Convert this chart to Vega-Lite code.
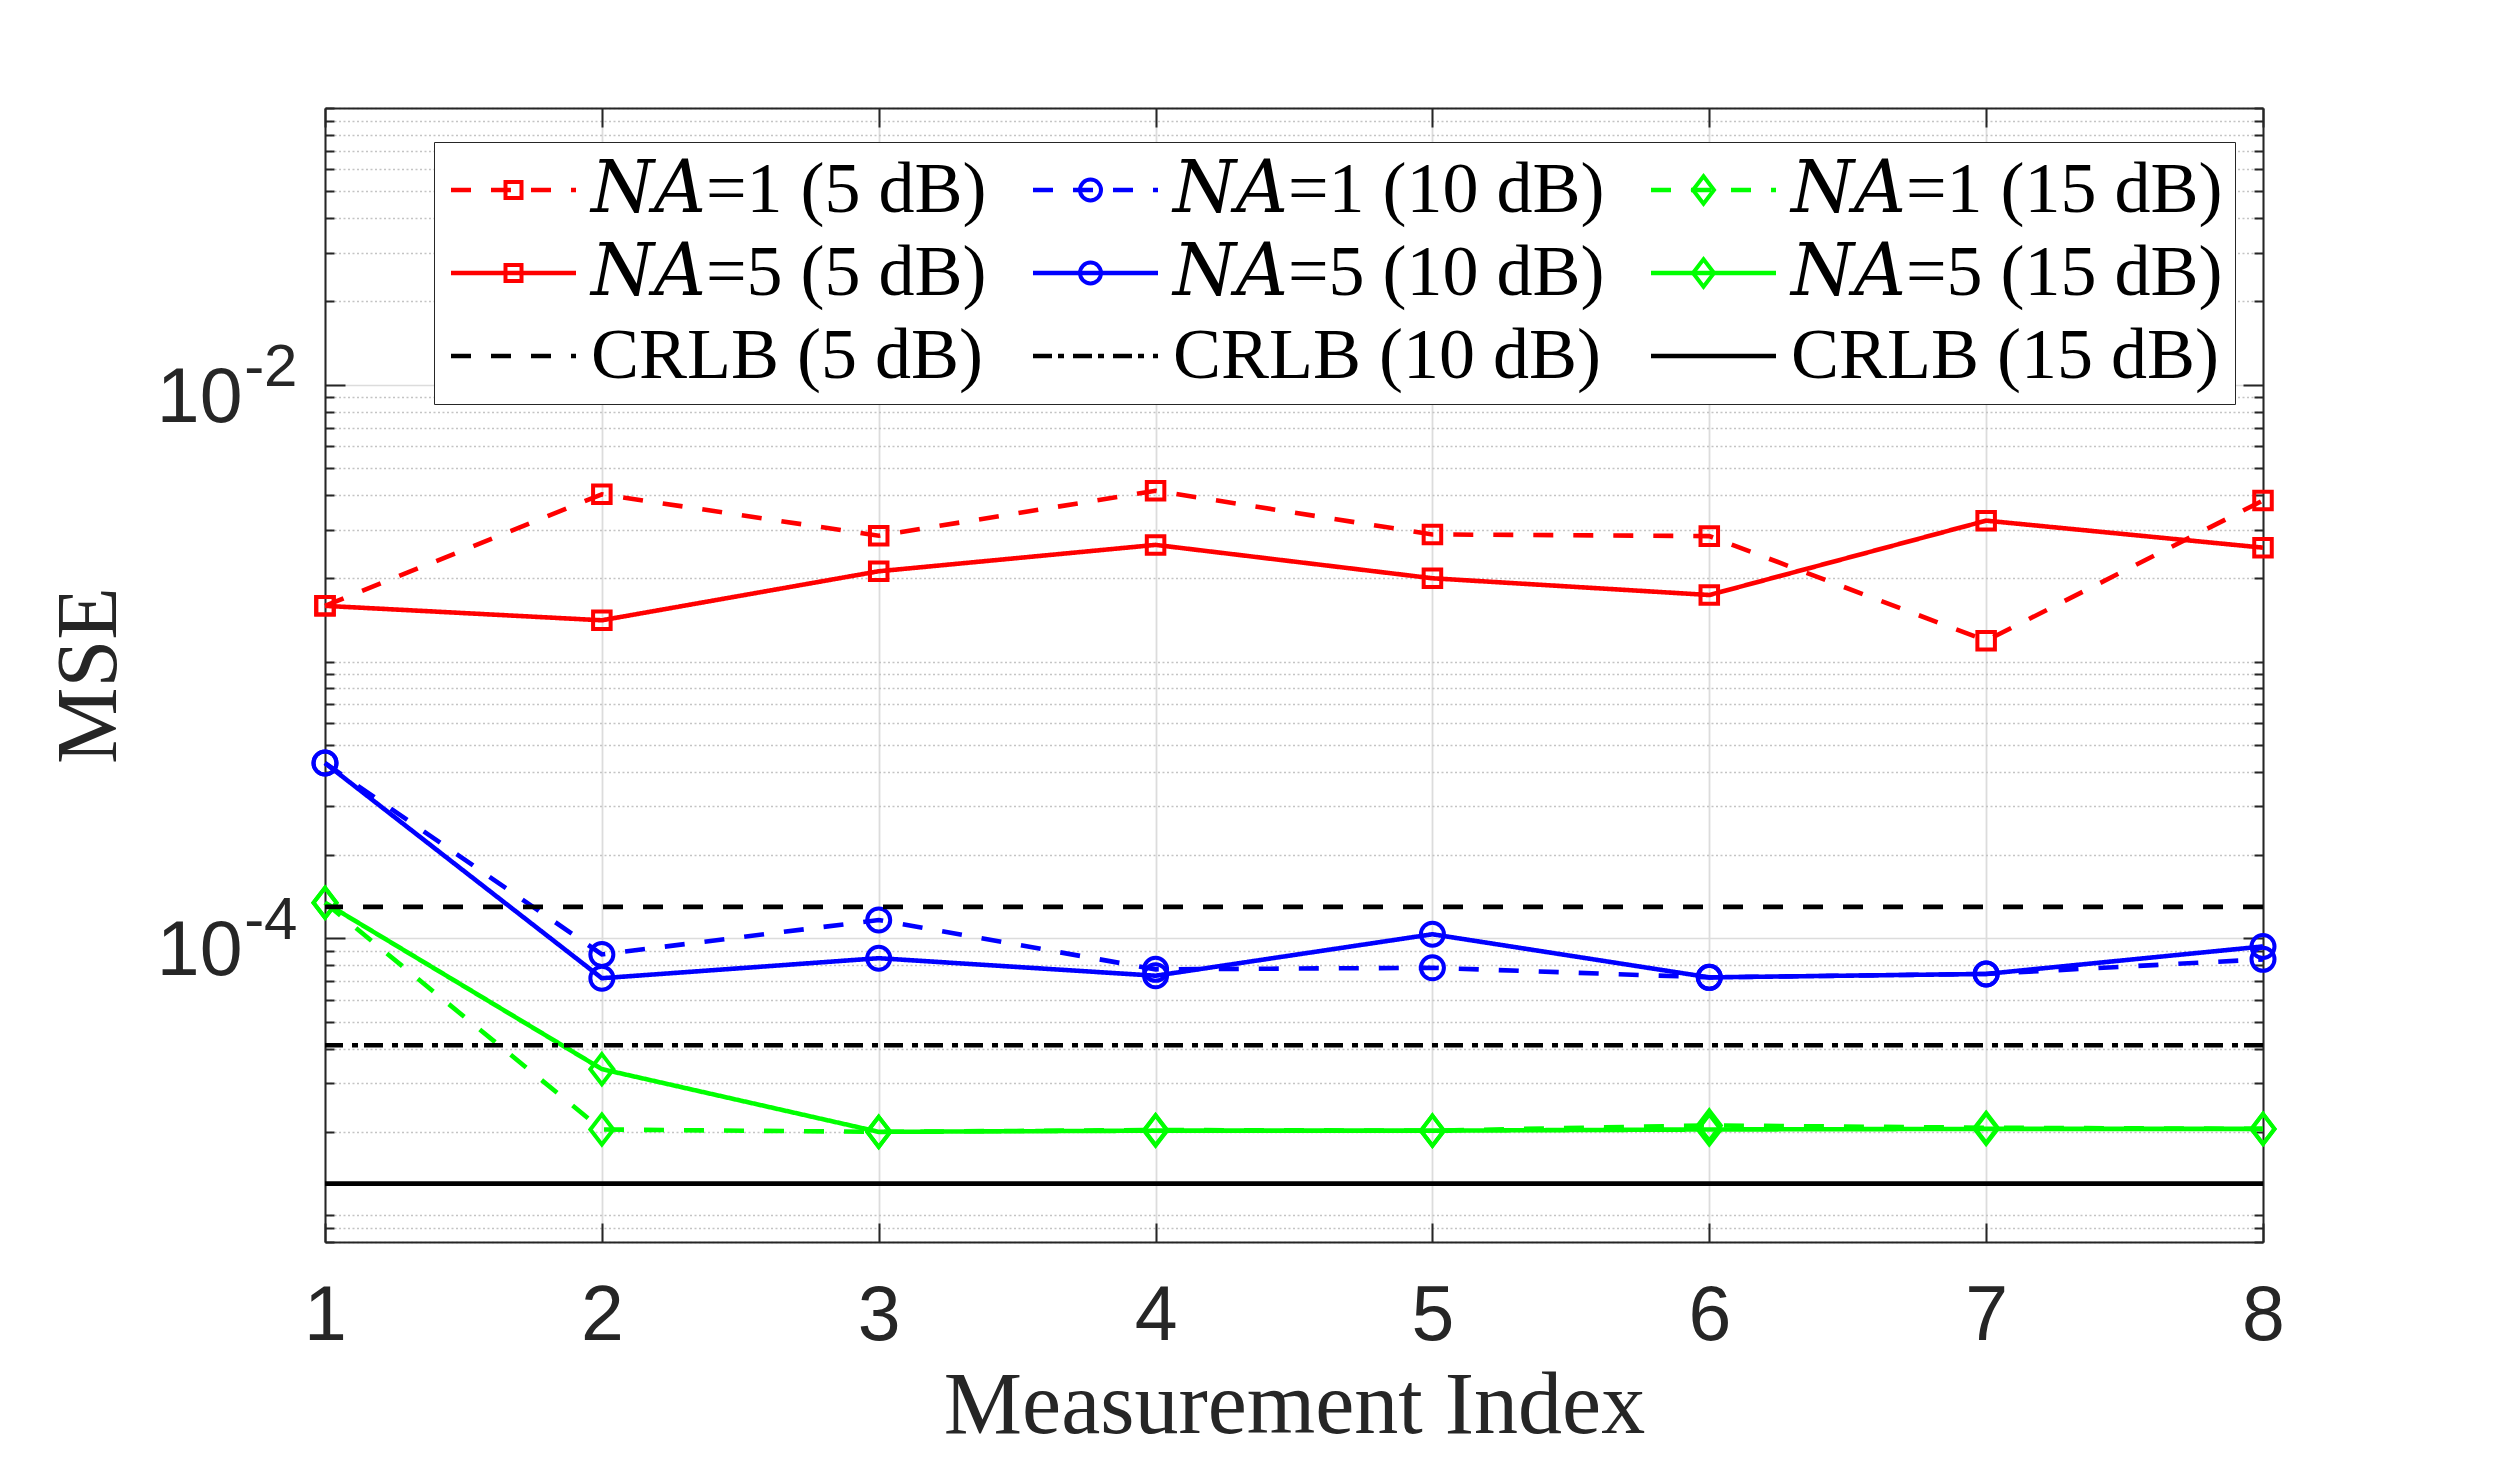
{
  "$schema": "https://vega.github.io/schema/vega-lite/v6.json",
  "width": 1938,
  "height": 1134,
  "autosize": {"type": "none"},
  "padding": {"left": 325, "top": 108, "right": 237, "bottom": 216},
  "background": "white",
  "config": {
    "view": {"stroke": null},
    "axis": {"domainColor": "#262626", "domainWidth": 2, "tickColor": "#262626", "tickWidth": 2}
  },
  "datasets": {
    "curves": [
      {"series": "N_A=1 (5 dB)", "index": 1, "mse": 0.00159},
      {"series": "N_A=1 (5 dB)", "index": 2, "mse": 0.00402},
      {"series": "N_A=1 (5 dB)", "index": 3, "mse": 0.00285},
      {"series": "N_A=1 (5 dB)", "index": 4, "mse": 0.00414},
      {"series": "N_A=1 (5 dB)", "index": 5, "mse": 0.00288},
      {"series": "N_A=1 (5 dB)", "index": 6, "mse": 0.00284},
      {"series": "N_A=1 (5 dB)", "index": 7, "mse": 0.00119},
      {"series": "N_A=1 (5 dB)", "index": 8, "mse": 0.00382},
      {"series": "N_A=5 (5 dB)", "index": 1, "mse": 0.00159},
      {"series": "N_A=5 (5 dB)", "index": 2, "mse": 0.00141},
      {"series": "N_A=5 (5 dB)", "index": 3, "mse": 0.00212},
      {"series": "N_A=5 (5 dB)", "index": 4, "mse": 0.00264},
      {"series": "N_A=5 (5 dB)", "index": 5, "mse": 0.002},
      {"series": "N_A=5 (5 dB)", "index": 6, "mse": 0.00174},
      {"series": "N_A=5 (5 dB)", "index": 7, "mse": 0.00323},
      {"series": "N_A=5 (5 dB)", "index": 8, "mse": 0.00258},
      {"series": "N_A=1 (10 dB)", "index": 1, "mse": 0.00043},
      {"series": "N_A=1 (10 dB)", "index": 2, "mse": 0.0000875},
      {"series": "N_A=1 (10 dB)", "index": 3, "mse": 0.0001165},
      {"series": "N_A=1 (10 dB)", "index": 4, "mse": 0.0000773},
      {"series": "N_A=1 (10 dB)", "index": 5, "mse": 0.0000783},
      {"series": "N_A=1 (10 dB)", "index": 6, "mse": 0.0000723},
      {"series": "N_A=1 (10 dB)", "index": 7, "mse": 0.0000744},
      {"series": "N_A=1 (10 dB)", "index": 8, "mse": 0.000084},
      {"series": "N_A=5 (10 dB)", "index": 1, "mse": 0.00043},
      {"series": "N_A=5 (10 dB)", "index": 2, "mse": 0.0000718},
      {"series": "N_A=5 (10 dB)", "index": 3, "mse": 0.0000848},
      {"series": "N_A=5 (10 dB)", "index": 4, "mse": 0.0000733},
      {"series": "N_A=5 (10 dB)", "index": 5, "mse": 0.0001035},
      {"series": "N_A=5 (10 dB)", "index": 6, "mse": 0.0000723},
      {"series": "N_A=5 (10 dB)", "index": 7, "mse": 0.0000744},
      {"series": "N_A=5 (10 dB)", "index": 8, "mse": 0.0000935},
      {"series": "N_A=1 (15 dB)", "index": 1, "mse": 0.0001345},
      {"series": "N_A=1 (15 dB)", "index": 2, "mse": 0.0000204},
      {"series": "N_A=1 (15 dB)", "index": 3, "mse": 0.00002},
      {"series": "N_A=1 (15 dB)", "index": 4, "mse": 0.0000203},
      {"series": "N_A=1 (15 dB)", "index": 5, "mse": 0.0000202},
      {"series": "N_A=1 (15 dB)", "index": 6, "mse": 0.0000211},
      {"series": "N_A=1 (15 dB)", "index": 7, "mse": 0.0000207},
      {"series": "N_A=1 (15 dB)", "index": 8, "mse": 0.0000205},
      {"series": "N_A=5 (15 dB)", "index": 1, "mse": 0.0001345},
      {"series": "N_A=5 (15 dB)", "index": 2, "mse": 0.0000337},
      {"series": "N_A=5 (15 dB)", "index": 3, "mse": 0.00002},
      {"series": "N_A=5 (15 dB)", "index": 4, "mse": 0.0000202},
      {"series": "N_A=5 (15 dB)", "index": 5, "mse": 0.0000202},
      {"series": "N_A=5 (15 dB)", "index": 6, "mse": 0.0000204},
      {"series": "N_A=5 (15 dB)", "index": 7, "mse": 0.0000205},
      {"series": "N_A=5 (15 dB)", "index": 8, "mse": 0.0000205}
    ],
    "crlb": [
      {"series": "CRLB (5 dB)", "mse": 0.00013},
      {"series": "CRLB (10 dB)", "mse": 0.0000411},
      {"series": "CRLB (15 dB)", "mse": 0.000013}
    ]
  },
  "layer": [
    {
      "data": {"name": "curves"},
      "mark": {"type": "line", "strokeWidth": 4.6, "strokeCap": "butt"},
      "encoding": {
        "x": {
          "field": "index", "type": "quantitative",
          "scale": {"domain": [1, 8], "nice": false, "zero": false},
          "axis": {
            "orient": "bottom", "values": [1, 2, 3, 4, 5, 6, 7, 8], "format": "d",
            "labelFont": "Liberation Sans", "labelFontSize": 77, "labelColor": "#262626",
            "labelPadding": 55, "labelFlush": false, "labelOverlap": false,
            "tickSize": -19, "grid": true, "gridColor": "#dcdcdc", "gridWidth": 1.8,
            "title": "Measurement Index", "titleFont": "Liberation Serif", "titleFontSize": 88,
            "titleFontWeight": "normal", "titleColor": "#262626", "titlePadding": 8
          }
        },
        "y": {
          "field": "mse", "type": "quantitative",
          "scale": {"type": "log", "domain": [0.000008, 0.1], "nice": false},
          "axis": {
            "orient": "left",
            "values": [0.000008, 0.000009, 0.00001, 0.00002, 0.00003, 0.00004, 0.00005, 0.00006, 0.00007, 0.00008, 0.00009, 0.0001, 0.0002, 0.0003, 0.0004, 0.0005, 0.0006, 0.0007, 0.0008, 0.0009, 0.001, 0.002, 0.003, 0.004, 0.005, 0.006, 0.007, 0.008, 0.009, 0.01, 0.02, 0.03, 0.04, 0.05, 0.06, 0.07, 0.08, 0.09, 0.1],
            "labelExpr": "datum.value == 0.01 || datum.value == 0.0001 ? '10' : ''",
            "labelFont": "Liberation Sans", "labelFontSize": 77, "labelColor": "#262626",
            "labelPadding": 103, "labelOffset": 13.5, "labelBaseline": "middle",
            "labelFlush": false, "labelOverlap": false, "labelBound": false,
            "tickSize": {"condition": {"test": "datum.value == 0.01 || datum.value == 0.0001", "value": -20}, "value": -9},
            "grid": true,
            "gridColor": {"condition": {"test": "datum.value == 0.01 || datum.value == 0.0001", "value": "#dcdcdc"}, "value": "#c4c4c4"},
            "gridDash": {"condition": {"test": "datum.value == 0.01 || datum.value == 0.0001", "value": []}, "value": [2, 2.5]},
            "gridWidth": 1.6,
            "title": "MSE", "titleFont": "Liberation Serif", "titleFontSize": 86,
            "titleFontWeight": "normal", "titleColor": "#262626", "titlePadding": 23
          }
        },
        "color": {
          "field": "series", "type": "nominal",
          "scale": {
            "domain": ["N_A=1 (5 dB)", "N_A=1 (10 dB)", "N_A=1 (15 dB)", "N_A=5 (5 dB)", "N_A=5 (10 dB)", "N_A=5 (15 dB)", "CRLB (5 dB)", "CRLB (10 dB)", "CRLB (15 dB)"],
            "range": ["#ff0000", "#0000ff", "#00ff00", "#ff0000", "#0000ff", "#00ff00", "#000000", "#000000", "#000000"]
          },
          "legend": {
            "orient": "none", "legendX": 109, "legendY": 34, "columns": 3, "direction": "horizontal", "title": null,
            "symbolType": "M-1.55,0H4.7", "symbolSize": 1600, "symbolStrokeWidth": 4.6,
            "symbolFillColor": "transparent",
            "labelFont": "Liberation Serif, DejaVu Serif", "labelFontSize": 72, "labelColor": "#000000",
            "labelOffset": 73, "labelLimit": 1000,
            "labelExpr": "replace(datum.label, 'N_A', '𝑁𝐴')",
            "columnPadding": 36, "rowPadding": 11, "padding": 12,
            "strokeColor": "#262626", "fillColor": "white", "zindex": 1,
            "encode": {
              "legend": {"strokeWidth": {"value": 2}}
            }
          }
        },
        "strokeDash": {
          "field": "series", "type": "nominal",
          "scale": {
            "domain": ["N_A=1 (5 dB)", "N_A=1 (10 dB)", "N_A=1 (15 dB)", "N_A=5 (5 dB)", "N_A=5 (10 dB)", "N_A=5 (15 dB)", "CRLB (5 dB)", "CRLB (10 dB)", "CRLB (15 dB)"],
            "range": [[20, 20], [20, 20], [20, 20], [1, 0], [1, 0], [1, 0], [20, 20], [19, 6, 6, 9], [1, 0]]
          }
        }
      }
    },
    {
      "data": {"name": "curves"},
      "mark": {"type": "point", "filled": false, "strokeWidth": 4, "size": 480, "opacity": 1},
      "encoding": {
        "x": {
          "field": "index", "type": "quantitative",
          "axis": {"orient": "top", "values": [1, 2, 3, 4, 5, 6, 7, 8], "labels": false, "tickSize": -19, "grid": false, "title": null}
        },
        "y": {
          "field": "mse", "type": "quantitative",
          "axis": {
            "orient": "right",
            "values": [0.000008, 0.000009, 0.00001, 0.00002, 0.00003, 0.00004, 0.00005, 0.00006, 0.00007, 0.00008, 0.00009, 0.0001, 0.0002, 0.0003, 0.0004, 0.0005, 0.0006, 0.0007, 0.0008, 0.0009, 0.001, 0.002, 0.003, 0.004, 0.005, 0.006, 0.007, 0.008, 0.009, 0.01, 0.02, 0.03, 0.04, 0.05, 0.06, 0.07, 0.08, 0.09, 0.1],
            "labels": false,
            "tickSize": {"condition": {"test": "datum.value == 0.01 || datum.value == 0.0001", "value": -20}, "value": -9},
            "grid": false, "title": null
          }
        },
        "stroke": {
          "field": "series", "type": "nominal",
          "scale": {
            "domain": ["N_A=1 (5 dB)", "N_A=1 (10 dB)", "N_A=1 (15 dB)", "N_A=5 (5 dB)", "N_A=5 (10 dB)", "N_A=5 (15 dB)", "CRLB (5 dB)", "CRLB (10 dB)", "CRLB (15 dB)", ""],
            "range": ["#ff0000", "#0000ff", "#00ff00", "#ff0000", "#0000ff", "#00ff00", "#000000", "#000000", "#000000", "#ffffff"]
          },
          "legend": {
            "orient": "none", "legendX": 109, "legendY": 34, "columns": 3, "direction": "horizontal", "title": null,
            "symbolSize": 400, "symbolStrokeWidth": 4, "symbolOffset": 31.5, "symbolFillColor": "transparent",
            "labelFont": "Liberation Serif, DejaVu Serif", "labelFontSize": 72, "labelOpacity": 0,
            "labelOffset": 41.5, "labelLimit": 1000,
            "labelExpr": "replace(datum.label, 'N_A', '𝑁𝐴')",
            "columnPadding": 36, "rowPadding": 11, "padding": 12, "zindex": 2
          }
        },
        "shape": {
          "field": "series", "type": "nominal",
          "scale": {
            "domain": ["N_A=1 (5 dB)", "N_A=1 (10 dB)", "N_A=1 (15 dB)", "N_A=5 (5 dB)", "N_A=5 (10 dB)", "N_A=5 (15 dB)", "CRLB (5 dB)", "CRLB (10 dB)", "CRLB (15 dB)", ""],
            "range": [
              "M-0.8,-0.8H0.8V0.8H-0.8Z",
              "M-1.05,0A1.05,1.05,0,1,1,1.05,0A1.05,1.05,0,1,1,-1.05,0Z",
              "M0,-1.37L1.05,0L0,1.37L-1.05,0Z",
              "M-0.8,-0.8H0.8V0.8H-0.8Z",
              "M-1.05,0A1.05,1.05,0,1,1,1.05,0A1.05,1.05,0,1,1,-1.05,0Z",
              "M0,-1.37L1.05,0L0,1.37L-1.05,0Z",
              "M0,0", "M0,0", "M0,0", "M0,0"
            ]
          },
          "legend": {
            "orient": "none", "legendX": 109, "legendY": 34, "columns": 3, "direction": "horizontal", "title": null,
            "symbolSize": 400, "symbolStrokeWidth": 4, "symbolOffset": 31.5, "symbolFillColor": "transparent",
            "labelFont": "Liberation Serif, DejaVu Serif", "labelFontSize": 72, "labelOpacity": 0,
            "labelOffset": 41.5, "labelLimit": 1000,
            "labelExpr": "replace(datum.label, 'N_A', '𝑁𝐴')",
            "columnPadding": 36, "rowPadding": 11, "padding": 12, "zindex": 2
          }
        }
      }
    },
    {
      "data": {"name": "crlb"},
      "mark": {"type": "rule", "strokeWidth": 4.6, "strokeCap": "butt"},
      "encoding": {
        "y": {
          "field": "mse", "type": "quantitative",
          "axis": {
            "orient": "left", "values": [0.01, 0.0001],
            "labelExpr": "datum.value == 0.01 ? '-2' : '-4'",
            "labelFont": "Liberation Sans", "labelFontSize": 60, "labelColor": "#262626",
            "labelPadding": 28, "labelOffset": -17.5, "labelBaseline": "middle",
            "labelFlush": false, "labelOverlap": false, "labelBound": false,
            "ticks": false, "tickSize": 0, "domain": false, "grid": false, "title": null
          }
        },
        "color": {"field": "series", "type": "nominal"},
        "strokeDash": {"field": "series", "type": "nominal"}
      }
    }
  ],
  "resolve": {"axis": {"x": "independent", "y": "independent"}}
}
